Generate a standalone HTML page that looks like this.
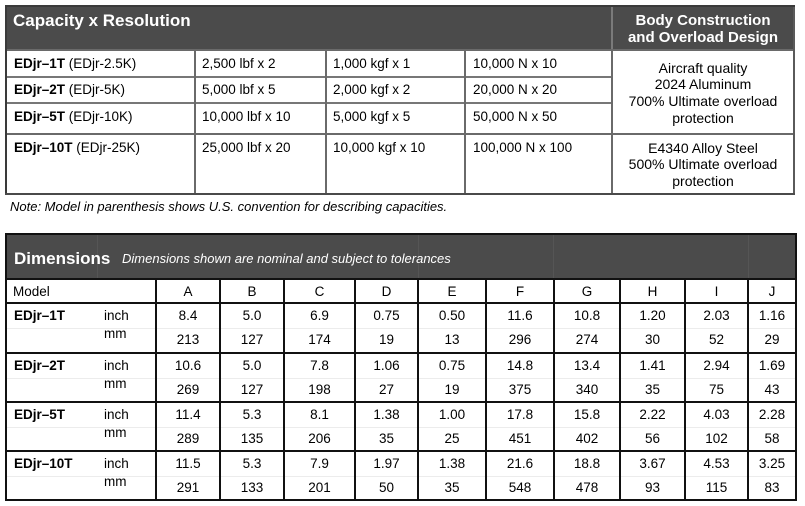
<!DOCTYPE html>
<html><head><meta charset="utf-8"><style>
html,body{margin:0;padding:0;background:#fff}
body{width:805px;height:506px;position:relative;overflow:hidden;font-family:"Liberation Sans",sans-serif;color:#000}
.t{position:absolute;white-space:nowrap;line-height:16px;font-size:13.5px}
.d{position:absolute;white-space:nowrap;line-height:16px;font-size:13.5px;text-align:center}
.l{position:absolute}
.b{font-weight:bold}
</style></head><body>

<!-- TOP TABLE -->
<div class="l" style="left:6px;top:6px;width:788px;height:44px;background:#4b4b4b"></div>
<div class="l" style="left:611px;top:6px;width:1.5px;height:44px;background:#7a7a7a"></div>
<div class="l" style="left:6px;top:49px;width:788px;height:1.5px;background:#6a6a6a"></div>
<div class="l" style="left:6px;top:76px;width:606px;height:1.5px;background:#777"></div>
<div class="l" style="left:6px;top:102px;width:606px;height:1.5px;background:#777"></div>
<div class="l" style="left:6px;top:133px;width:788px;height:1.5px;background:#6a6a6a"></div>
<div class="l" style="left:194px;top:50px;width:1.5px;height:144px;background:#6a6a6a"></div>
<div class="l" style="left:325px;top:50px;width:1.5px;height:144px;background:#6a6a6a"></div>
<div class="l" style="left:464px;top:50px;width:1.5px;height:144px;background:#6a6a6a"></div>
<div class="l" style="left:611px;top:50px;width:1.5px;height:144px;background:#6a6a6a"></div>
<div class="l" style="left:5px;top:5px;width:2px;height:190px;background:#3a3a3a"></div>
<div class="l" style="left:793px;top:5px;width:2px;height:190px;background:#5a5a5a"></div>
<div class="l" style="left:5px;top:5px;width:790px;height:2px;background:#3a3a3a"></div>
<div class="l" style="left:5px;top:193px;width:790px;height:2px;background:#4a4a4a"></div>

<div class="t b" style="left:13px;top:11px;font-size:17px;line-height:20px;color:#fff">Capacity x Resolution</div>
<div class="t b" style="left:612px;width:182px;top:12px;font-size:15px;line-height:17px;color:#fff;text-align:center">Body Construction<br>and Overload Design</div>

<div class="t" style="left:14px;top:56px"><span class="b">EDjr–1T</span> (EDjr-2.5K)</div>
<div class="t" style="left:14px;top:82px"><span class="b">EDjr–2T</span> (EDjr-5K)</div>
<div class="t" style="left:14px;top:109px"><span class="b">EDjr–5T</span> (EDjr-10K)</div>
<div class="t" style="left:14px;top:140px"><span class="b">EDjr–10T</span> (EDjr-25K)</div>

<div class="t" style="left:202px;top:56px">2,500 lbf x 2</div>
<div class="t" style="left:202px;top:82px">5,000 lbf x 5</div>
<div class="t" style="left:202px;top:109px">10,000 lbf x 10</div>
<div class="t" style="left:202px;top:140px">25,000 lbf x 20</div>

<div class="t" style="left:333px;top:56px">1,000 kgf x 1</div>
<div class="t" style="left:333px;top:82px">2,000 kgf x 2</div>
<div class="t" style="left:333px;top:109px">5,000 kgf x 5</div>
<div class="t" style="left:333px;top:140px">10,000 kgf x 10</div>

<div class="t" style="left:473px;top:56px">10,000 N x 10</div>
<div class="t" style="left:473px;top:82px">20,000 N x 20</div>
<div class="t" style="left:473px;top:109px">50,000 N x 50</div>
<div class="t" style="left:473px;top:140px">100,000 N x 100</div>

<div class="t" style="left:612px;width:182px;top:59.5px;font-size:14px;line-height:16.7px;text-align:center">Aircraft quality<br>2024 Aluminum<br>700% Ultimate overload<br>protection</div>
<div class="t" style="left:612px;width:182px;top:139.5px;font-size:14px;line-height:16.9px;text-align:center">E4340 Alloy Steel<br>500% Ultimate overload<br>protection</div>

<div class="t" style="left:10px;top:199px;font-size:13px;font-style:italic">Note: Model in parenthesis shows U.S. convention for describing capacities.</div>

<!-- DIMENSIONS TABLE -->
<div class="l" style="left:6px;top:234px;width:790px;height:45px;background:#4b4b4b"></div>
<div class="l" style="left:97px;top:234px;width:1px;height:45px;background:#555"></div>
<div class="l" style="left:418px;top:234px;width:1px;height:45px;background:#555"></div>
<div class="l" style="left:553px;top:234px;width:1px;height:45px;background:#555"></div>
<div class="l" style="left:748px;top:234px;width:1px;height:45px;background:#555"></div>
<div class="l" style="left:6px;top:328px;width:790px;height:1px;background:#ececec"></div>
<div class="l" style="left:6px;top:378px;width:790px;height:1px;background:#ececec"></div>
<div class="l" style="left:6px;top:427px;width:790px;height:1px;background:#ececec"></div>
<div class="l" style="left:6px;top:476px;width:790px;height:1px;background:#ececec"></div>
<div class="l" style="left:6px;top:278px;width:790px;height:2px;background:#111"></div>
<div class="l" style="left:6px;top:302px;width:790px;height:2px;background:#111"></div>
<div class="l" style="left:6px;top:352px;width:790px;height:2px;background:#111"></div>
<div class="l" style="left:6px;top:401px;width:790px;height:2px;background:#111"></div>
<div class="l" style="left:6px;top:450px;width:790px;height:2px;background:#111"></div>
<div class="l" style="left:155px;top:279px;width:2px;height:221px;background:#111"></div>
<div class="l" style="left:219px;top:279px;width:2px;height:221px;background:#111"></div>
<div class="l" style="left:283px;top:279px;width:2px;height:221px;background:#111"></div>
<div class="l" style="left:354px;top:279px;width:2px;height:221px;background:#111"></div>
<div class="l" style="left:417px;top:279px;width:2px;height:221px;background:#111"></div>
<div class="l" style="left:485px;top:279px;width:2px;height:221px;background:#111"></div>
<div class="l" style="left:553px;top:279px;width:2px;height:221px;background:#111"></div>
<div class="l" style="left:619px;top:279px;width:2px;height:221px;background:#111"></div>
<div class="l" style="left:684px;top:279px;width:2px;height:221px;background:#111"></div>
<div class="l" style="left:747px;top:279px;width:2px;height:221px;background:#111"></div>
<div class="l" style="left:5px;top:233px;width:2px;height:268px;background:#111"></div>
<div class="l" style="left:795px;top:233px;width:2px;height:268px;background:#111"></div>
<div class="l" style="left:5px;top:233px;width:792px;height:2px;background:#111"></div>
<div class="l" style="left:5px;top:499px;width:792px;height:2px;background:#111"></div>

<div class="t b" style="left:14px;top:249px;font-size:17px;line-height:20px;color:#fff">Dimensions</div>
<div class="t" style="left:122px;top:251px;font-size:13px;font-style:italic;color:#fff">Dimensions shown are nominal and subject to tolerances</div>

<div class="d" style="left:13px;top:284px;text-align:left">Model</div>
<div class="d" style="left:156px;width:64px;top:284px">A</div>
<div class="d" style="left:220px;width:64px;top:284px">B</div>
<div class="d" style="left:284px;width:71px;top:284px">C</div>
<div class="d" style="left:355px;width:63px;top:284px">D</div>
<div class="d" style="left:418px;width:68px;top:284px">E</div>
<div class="d" style="left:486px;width:68px;top:284px">F</div>
<div class="d" style="left:554px;width:66px;top:284px">G</div>
<div class="d" style="left:620px;width:65px;top:284px">H</div>
<div class="d" style="left:685px;width:63px;top:284px">I</div>
<div class="d" style="left:748px;width:48px;top:284px">J</div>

<div class="d b" style="left:14px;top:308px;text-align:left">EDjr–1T</div>
<div class="d" style="left:104px;top:308px;text-align:left">inch</div>
<div class="d" style="left:104px;top:326px;text-align:left">mm</div>
<div class="d" style="left:156px;width:64px;top:308px">8.4</div><div class="d" style="left:156px;width:64px;top:332px">213</div>
<div class="d" style="left:220px;width:64px;top:308px">5.0</div><div class="d" style="left:220px;width:64px;top:332px">127</div>
<div class="d" style="left:284px;width:71px;top:308px">6.9</div><div class="d" style="left:284px;width:71px;top:332px">174</div>
<div class="d" style="left:355px;width:63px;top:308px">0.75</div><div class="d" style="left:355px;width:63px;top:332px">19</div>
<div class="d" style="left:418px;width:68px;top:308px">0.50</div><div class="d" style="left:418px;width:68px;top:332px">13</div>
<div class="d" style="left:486px;width:68px;top:308px">11.6</div><div class="d" style="left:486px;width:68px;top:332px">296</div>
<div class="d" style="left:554px;width:66px;top:308px">10.8</div><div class="d" style="left:554px;width:66px;top:332px">274</div>
<div class="d" style="left:620px;width:65px;top:308px">1.20</div><div class="d" style="left:620px;width:65px;top:332px">30</div>
<div class="d" style="left:685px;width:63px;top:308px">2.03</div><div class="d" style="left:685px;width:63px;top:332px">52</div>
<div class="d" style="left:748px;width:48px;top:308px">1.16</div><div class="d" style="left:748px;width:48px;top:332px">29</div>

<div class="d b" style="left:14px;top:358px;text-align:left">EDjr–2T</div>
<div class="d" style="left:104px;top:358px;text-align:left">inch</div>
<div class="d" style="left:104px;top:376px;text-align:left">mm</div>
<div class="d" style="left:156px;width:64px;top:358px">10.6</div><div class="d" style="left:156px;width:64px;top:382px">269</div>
<div class="d" style="left:220px;width:64px;top:358px">5.0</div><div class="d" style="left:220px;width:64px;top:382px">127</div>
<div class="d" style="left:284px;width:71px;top:358px">7.8</div><div class="d" style="left:284px;width:71px;top:382px">198</div>
<div class="d" style="left:355px;width:63px;top:358px">1.06</div><div class="d" style="left:355px;width:63px;top:382px">27</div>
<div class="d" style="left:418px;width:68px;top:358px">0.75</div><div class="d" style="left:418px;width:68px;top:382px">19</div>
<div class="d" style="left:486px;width:68px;top:358px">14.8</div><div class="d" style="left:486px;width:68px;top:382px">375</div>
<div class="d" style="left:554px;width:66px;top:358px">13.4</div><div class="d" style="left:554px;width:66px;top:382px">340</div>
<div class="d" style="left:620px;width:65px;top:358px">1.41</div><div class="d" style="left:620px;width:65px;top:382px">35</div>
<div class="d" style="left:685px;width:63px;top:358px">2.94</div><div class="d" style="left:685px;width:63px;top:382px">75</div>
<div class="d" style="left:748px;width:48px;top:358px">1.69</div><div class="d" style="left:748px;width:48px;top:382px">43</div>

<div class="d b" style="left:14px;top:407px;text-align:left">EDjr–5T</div>
<div class="d" style="left:104px;top:407px;text-align:left">inch</div>
<div class="d" style="left:104px;top:425px;text-align:left">mm</div>
<div class="d" style="left:156px;width:64px;top:407px">11.4</div><div class="d" style="left:156px;width:64px;top:431px">289</div>
<div class="d" style="left:220px;width:64px;top:407px">5.3</div><div class="d" style="left:220px;width:64px;top:431px">135</div>
<div class="d" style="left:284px;width:71px;top:407px">8.1</div><div class="d" style="left:284px;width:71px;top:431px">206</div>
<div class="d" style="left:355px;width:63px;top:407px">1.38</div><div class="d" style="left:355px;width:63px;top:431px">35</div>
<div class="d" style="left:418px;width:68px;top:407px">1.00</div><div class="d" style="left:418px;width:68px;top:431px">25</div>
<div class="d" style="left:486px;width:68px;top:407px">17.8</div><div class="d" style="left:486px;width:68px;top:431px">451</div>
<div class="d" style="left:554px;width:66px;top:407px">15.8</div><div class="d" style="left:554px;width:66px;top:431px">402</div>
<div class="d" style="left:620px;width:65px;top:407px">2.22</div><div class="d" style="left:620px;width:65px;top:431px">56</div>
<div class="d" style="left:685px;width:63px;top:407px">4.03</div><div class="d" style="left:685px;width:63px;top:431px">102</div>
<div class="d" style="left:748px;width:48px;top:407px">2.28</div><div class="d" style="left:748px;width:48px;top:431px">58</div>

<div class="d b" style="left:14px;top:456px;text-align:left">EDjr–10T</div>
<div class="d" style="left:104px;top:456px;text-align:left">inch</div>
<div class="d" style="left:104px;top:474px;text-align:left">mm</div>
<div class="d" style="left:156px;width:64px;top:456px">11.5</div><div class="d" style="left:156px;width:64px;top:480px">291</div>
<div class="d" style="left:220px;width:64px;top:456px">5.3</div><div class="d" style="left:220px;width:64px;top:480px">133</div>
<div class="d" style="left:284px;width:71px;top:456px">7.9</div><div class="d" style="left:284px;width:71px;top:480px">201</div>
<div class="d" style="left:355px;width:63px;top:456px">1.97</div><div class="d" style="left:355px;width:63px;top:480px">50</div>
<div class="d" style="left:418px;width:68px;top:456px">1.38</div><div class="d" style="left:418px;width:68px;top:480px">35</div>
<div class="d" style="left:486px;width:68px;top:456px">21.6</div><div class="d" style="left:486px;width:68px;top:480px">548</div>
<div class="d" style="left:554px;width:66px;top:456px">18.8</div><div class="d" style="left:554px;width:66px;top:480px">478</div>
<div class="d" style="left:620px;width:65px;top:456px">3.67</div><div class="d" style="left:620px;width:65px;top:480px">93</div>
<div class="d" style="left:685px;width:63px;top:456px">4.53</div><div class="d" style="left:685px;width:63px;top:480px">115</div>
<div class="d" style="left:748px;width:48px;top:456px">3.25</div><div class="d" style="left:748px;width:48px;top:480px">83</div>

</body></html>
